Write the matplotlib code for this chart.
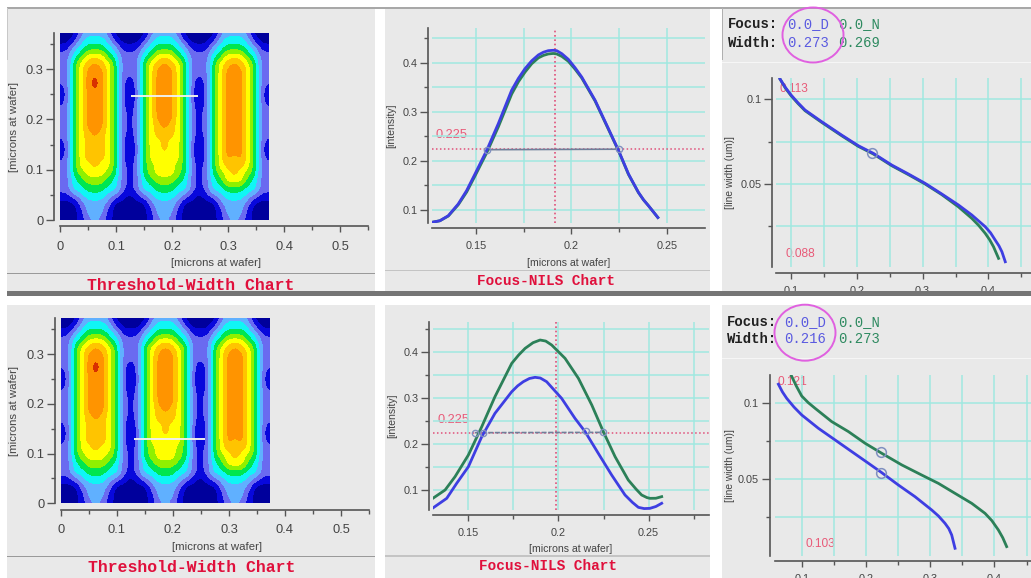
import numpy as np
import matplotlib
matplotlib.use("Agg")
import matplotlib.pyplot as plt
from matplotlib.patches import Rectangle, Ellipse
from matplotlib.colors import ListedColormap, BoundaryNorm

W, H = 1031, 578
SANS = "Liberation Sans"
MONO = "Liberation Mono"

# ---- data ----
heat_rows = [  # top (y=0.372) to bottom (y=0), intensity class per column
    "0 002333200 0 002333200 0 002333200 0",
    "0 013444310 0 013444310 0 013444310 0",
    "1 134555431 1 134555431 1 134555431 1",
    "2 245777542 2 245777542 2 245777542 2",
    "2 257898752 2 257898752 2 257898752 2",
    "2 257999752 2 257999752 2 257999752 2",
    "2 2579a9752 1 257999752 1 257999752 2",
    "1 2579a9752 0 257999752 0 257999752 1",
    "0 257999752 0 257999752 0 257999752 0",
    "1 257999752 0 257999752 0 257999752 1",
    "2 257999752 1 257999752 1 257999752 2",
    "2 257999752 1 257999752 1 257999752 2",
    "2 257999752 1 257898752 1 257999752 2",
    "2 257898752 1 257888752 1 257999752 2",
    "1 257888752 0 257787752 0 257999752 1",
    "0 257888752 0 257787752 0 257999752 0",
    "1 257888752 0 257777752 0 257989752 1",
    "2 257787752 1 256777652 1 257888752 2",
    "2 256777652 1 256777652 1 256787652 2",
    "2 245666542 1 245666542 1 245777542 2",
    "2 244555442 1 244555442 1 244555442 2",
    "1 123444321 0 123444321 0 123444321 1",
    "0 002333200 0 002333200 0 002333200 0",
    "0 001333100 0 001333100 0 001333100 0",
    "0 001232100 0 001232100 0 001232100 0",
]
heat_colors = ["#00009c", "#0808dc", "#6a6af0", "#60b0ff", "#10f5f5", "#00e650",
               "#90f000", "#ffff00", "#ffc400", "#ff9400", "#d83000"]
heat_extent = 0.372
xticks_heat = [0, 0.1, 0.2, 0.3, 0.4, 0.5]
yticks_heat = [0, 0.1, 0.2, 0.3]
cut_top = ([0.127, 0.247], [0.247, 0.247])
cut_bot = ([0.131, 0.257], [0.13, 0.13])

nils_x1 = [.1267, .1311, .1355, .1407, .1451, .1495, .1556, .1617, .1687, .1722, .1757, .1792, .1827, .1853,
           .1879, .1905, .1923, .1950, .1984, .2019, .2054, .2124, .2194, .2247, .2299, .2351, .2378, .2404, .2453]
nils_blue1 = [.074, .0774, .0877, .1116, .139, .173, .221, .2757, .344, .368, .388, .404, .416, .4215,
              .4247, .4255, .4247, .4185, .407, .390, .371, .3235, .2654, .221, .173, .1355, .120, .108, .084]
nils_green1 = [.074, .0774, .087, .110, .136, .169, .216, .269, .336, .361, .381, .398, .410, .415,
               .418, .419, .418, .413, .403, .387, .369, .322, .264, .22, .172, .135, .120, .108, .084]
nils_gx2 = [.1308, .1373, .1428, .1502, .1576, .1649, .1742, .1780, .1816, .1860, .1899, .1930, .1963, .2037,
            .2111, .2185, .2249, .2314, .2387, .2430, .2461, .2490, .2507, .2540, .2572]
nils_green2 = [.0826, .1, .129, .1763, .238, .3033, .376, .394, .4086, .421, .4268, .4245, .4159, .3869,
               .3433, .2852, .2271, .1726, .1218, .1020, .0891, .0835, .0818, .0820, .0855]
nils_bx2 = [.1308, .1382, .1437, .1502, .1576, .1649, .1742, .1775, .1806, .1840, .1871, .1900, .1935, .2018,
            .2092, .2148, .2221, .2295, .2369, .2410, .2443, .2475, .2507, .2540, .2572]
nils_blue2 = [.0615, .0818, .1145, .1508, .2162, .267, .3142, .327, .336, .343, .3455, .3440, .336, .2997,
              .2561, .2271, .1799, .1327, .0891, .0730, .0622, .0595, .06, .0640, .071]

lw_bx1 = [.0833, .0915, .1, .1105, .1213, .1466, .1770, .2024, .2252, .2531, .2785, .3038, .3292, .3545,
          .3748, .3951, .4032, .4103, .4160, .4205, .4256]
lw_blue1 = [.112, .107, .1026, .098, .0937, .0868, .0789, .0726, .0681, .0612, .0559, .0504, .0441, .0376,
            .0317, .0248, .0212, .0169, .0135, .01, .0041]
lw_gx1 = [.0833, .0915, .1, .1105, .1213, .1466, .1770, .2024, .2252, .2531, .2785, .3038, .3292, .3545,
          .3748, .3851, .3951, .4020, .4077, .4154]
lw_green1 = [.112, .1066, .1022, .0976, .0933, .0864, .0785, .0722, .0677, .0608, .0555, .05, .0437, .0365,
             .0297, .0256, .0209, .017, .013, .0061]
lw_gx2 = [.0834, .0915, .1, .1100, .1208, .1467, .1727, .1986, .2245, .2557, .2868, .3128, .3387, .3647,
          .3854, .3960, .4062, .4130, .4191]
lw_green2 = [.1187, .1115, .1048, .1005, .0967, .0879, .0813, .0736, .067, .0593, .0526, .0471, .0405, .0339,
             .0273, .0225, .0163, .0112, .0053]
lw_bx2 = [.0637, .0700, .0766, .0880, .1, .1259, .1519, .1778, .2038, .2245, .2505, .2764, .3024, .3130, .3231,
          .3290, .3335, .3387]
lw_blue2 = [.1126, .1075, .1033, .0975, .0923, .0835, .0758, .0681, .0604, .0542, .046, .0383, .0295, .0255, .0207,
            .0172, .013, .0042]

xlabel_heat = "[microns at wafer]"
ylabel_heat = "[microns at wafer]"
ylabel_nils = "[intensity]"
ylabel_lw = "[line width (um)]"
title_heat = "Threshold-Width Chart"
title_nils = "Focus-NILS Chart"

BLUE, GREEN, GRID = "#3e3ee2", "#2c8058", "#a0e8e0"
PANEL, RED = "#e9e9e9", "#e85a78"
MARK = "#8090c0"
INK = "#444444"

fig = plt.figure(figsize=(W / 100, H / 100), dpi=100, facecolor="white")


def overlay(z):
    a = fig.add_axes([0, 0, 1, 1], zorder=z, facecolor="none")
    a.set_xlim(0, W)
    a.set_ylim(H, 0)
    a.axis("off")
    return a


bg = overlay(-1)
fg = overlay(10)


def box(l, t, r, b, c, where=bg, z=1):
    where.add_patch(Rectangle((l, t), r - l, b - t, fc=c, ec="none", zorder=z))


def make_axes(l, t, r, b, xlim, ylim, off_l, off_b, xmaj, xmin, ymaj, ymin, fs, xfmt, yfmt,
              xlab, xlab_y, ylab, ylab_x, lab_fs, ylab_y=None, xlab_x=None, xpad=3):
    ax = fig.add_axes([l / W, 1 - b / H, (r - l) / W, (b - t) / H], facecolor="none", zorder=2)
    ax.set_xlim(*xlim)
    ax.set_ylim(*ylim)
    for s in ("top", "right"):
        ax.spines[s].set_visible(False)
    ax.spines["left"].set_position(("outward", off_l * 0.72))
    ax.spines["bottom"].set_position(("outward", off_b * 0.72))
    for s in ("left", "bottom"):
        ax.spines[s].set_color("#555555")
        ax.spines[s].set_linewidth(1.2)
    ax.set_xticks(xmaj)
    ax.set_xticklabels(xfmt, fontsize=fs, family=SANS, color=INK)
    ax.set_xticks(xmin, minor=True)
    ax.set_yticks(ymaj)
    ax.set_yticklabels(yfmt, fontsize=fs, family=SANS, color=INK)
    ax.set_yticks(ymin, minor=True)
    ax.tick_params(axis="x", which="major", length=4.5, width=1, color="#555555", pad=xpad)
    ax.tick_params(axis="y", which="major", length=5.5, width=1, color="#555555", pad=2)
    ax.tick_params(which="minor", length=3, width=1, color="#555555")
    ax.set_xlabel(xlab, fontsize=lab_fs, family=SANS, color=INK)
    ax.set_ylabel(ylab, fontsize=lab_fs, family=SANS, color=INK)
    ax.xaxis.set_label_coords(xlab_x if xlab_x else (l + r) / 2, xlab_y, transform=bg.transData)
    ax.yaxis.set_label_coords(ylab_x, ylab_y if ylab_y else (t + b) / 2, transform=bg.transData)
    return ax


# ---- panels ----
for (t, b) in ((8, 291), (305, 578)):
    box(7, t, 375, b, PANEL)
    box(385, t, 710, b, PANEL)
    box(722, t, W, b, PANEL)
box(7, 272.5, 375, 273.7, "#9a9a9a", z=2)
box(7, 556, 375, 557.2, "#9a9a9a", z=2)
box(385, 269.5, 710, 271, "#c4c4c4", z=2)
box(385, 555, 710, 556.5, "#c4c4c4", z=2)
box(722, 61.5, W, 63, "#f6f6f6", z=2)
box(722, 357.5, W, 359, "#f6f6f6", z=2)
box(7, 6.5, W, 8.5, "#a8a8a8", z=2)
box(7, 8, 8, 60, "#c8c8c8", z=2)
box(722, 8, 723, 60, "#b0b0b0", z=2)
box(7, 291, W, 295.5, "#757575", where=fg)

bg.text(191, 285, title_heat, fontsize=11.9, family=MONO, weight="bold", color="#e0103c", ha="center", va="center")
bg.text(192, 568, title_heat, fontsize=11.9, family=MONO, weight="bold", color="#e0103c", ha="center", va="center")
bg.text(546, 281, title_nils, fontsize=10.4, family=MONO, weight="bold", color="#e0103c", ha="center", va="center")
bg.text(548, 566, title_nils, fontsize=10.4, family=MONO, weight="bold", color="#e0103c", ha="center", va="center")

# ---- heat maps ----
grid = np.array([[int(c, 16) for c in r.replace(" ", "")] for r in heat_rows], dtype=float)[::-1]
dx = heat_extent / (grid.shape[1] - 1)
dy = heat_extent / (grid.shape[0] - 1)
cmap = ListedColormap(heat_colors)
norm = BoundaryNorm(np.arange(-0.5, 11, 1.0), 11)


def heat(l, r, t, b, off_l, off_b, cut, xlab_y, ylab_x):
    ax = make_axes(l, t, r, b, (0, 0.55), (0, heat_extent), off_l, off_b,
                   xticks_heat, [.05, .15, .25, .35, .45, .55], yticks_heat, [.05, .15, .25, .35],
                   9.3, ["0", "0.1", "0.2", "0.3", "0.4", "0.5"], ["0", "0.1", "0.2", "0.3"],
                   xlabel_heat, xlab_y, ylabel_heat, ylab_x, 8.2, xlab_x=l + 156, xpad=6)
    im = ax.imshow(grid, origin="lower", aspect="auto", cmap=cmap, norm=norm,
                   extent=(-dx / 2, heat_extent + dx / 2, -dy / 2, heat_extent + dy / 2),
                   interpolation="bicubic", interpolation_stage="data")
    im.set_clip_path(Rectangle((0, 0), heat_extent, heat_extent, transform=ax.transData))
    ax.plot(*cut, color="#f0f0e8", lw=1.4, solid_capstyle="butt")
    ax.set_xlim(0, 0.55)
    ax.set_ylim(0, heat_extent)
    return ax


heat(60, 368, 33, 220, 6, 6, cut_top, 258, 19)
heat(61, 369, 318.3, 503.3, 6, 6.5, cut_bot, 542, 19)


# ---- intensity charts ----
def nils(l, r, t, b, xlim, ylim, off_l, off_b, xlab_y, ylab_x, curves, thr, vx, hline, marks, lab_xy, dotted):
    xmaj = [0.15, 0.2, 0.25]
    xall = [0.15, 0.175, 0.2, 0.225, 0.25] + ([0.275] if xlim[1] > 0.275 else [])
    ymaj = [0.1, 0.2, 0.3, 0.4]
    ymin = [0.15, 0.25, 0.35, 0.45]
    ax = make_axes(l, t, r, b, xlim, ylim, off_l, off_b, xmaj, [v for v in xall if v not in xmaj],
                   ymaj, ymin, 7.8, ["0.15", "0.2", "0.25"], ["0.1", "0.2", "0.3", "0.4"],
                   xlabel_heat, xlab_y, ylabel_nils, ylab_x, 7.6, xpad=5)
    for v in xall:
        ax.axvline(v, color=GRID, lw=1.1, zorder=1)
    for v in ymaj + ymin:
        ax.axhline(v, color=GRID, lw=1.1, zorder=1)
    ax.axhline(thr, color="#e0507a", lw=1.1, ls=(0, (1, 1.6)), zorder=2)
    ax.axvline(vx, color="#e0507a", lw=1.2, ls=(0, (1, 1.6)), zorder=2)
    ax.plot(hline[0], hline[1], color="#6f7f9a", lw=1.2, ls=dotted, zorder=3)
    for x, y, c in curves:
        ax.plot(x, y, color=c, lw=2, zorder=4)
    ax.plot(marks[0], marks[1], ls="none", marker="o", ms=4.5, mfc="none", mec=MARK, mew=1, zorder=5)
    bg.text(*lab_xy, "0.225", fontsize=9.2, family=SANS, color=RED, ha="left", va="center", zorder=5)
    return ax


nils(431.7, 705, 28, 222.7, (.1268, .27), (.0734, .471), 4, 5,
     258, 396, [(nils_x1, nils_green1, GREEN), (nils_x1, nils_blue1, BLUE)], .223, .1915,
     ([.1556, .2247], [.2225, .2235]), ([.1556, .2247], [.222, .2232]), (436, 135.5), "-")
nils(433, 709, 321.7, 510, (.1306, .2834), (.0564, .4667), 4, 5,
     544, 397, [(nils_gx2, nils_green2, GREEN), (nils_bx2, nils_blue2, BLUE)], .2249, .1989,
     ([.1538, .2249], [.2249, .2255]), ([.1538, .1584, .2152, .2249], [.2249, .2249, .2285, .2271]),
     (437, 420), (0, (3, 1)))


# ---- line width charts ----
def lw_chart(l, r, t, b, xlim, ylim, off_l, off_b, ylab_x, curves, marks, labels, xfoc, hdr):
    xmaj = [.1, .2, .3, .4]
    xmin = [.15, .25, .35, .45]
    ax = make_axes(l, t, r, b, xlim, ylim, off_l, off_b, xmaj, xmin, [.1, .05], [.075, .025], 7.8,
                   ["0.1", "0.2", "0.3", "0.4"], ["0.1", "0.05"], "", b + 20, ylabel_lw, ylab_x, 7.4,
                   xpad=5)
    for v in xmaj + xmin:
        ax.axvline(v, color=GRID, lw=1.1, zorder=1)
    for v in [.1, .075, .05, .025]:
        ax.axhline(v, color=GRID, lw=1.1, zorder=1)
    for x, y, c in curves:
        ax.plot(x, y, color=c, lw=2, zorder=4)
    ax.plot(marks[0], marks[1], ls="none", marker="o", ms=7, mfc="none", mec=MARK, mew=1.1, zorder=5)
    for (x, y, s) in labels:
        bg.text(x, y, s, fontsize=8.6, family=SANS, color=RED, ha="left", va="center", zorder=5)
    (y1, y2, fx, vals, gvals, ell) = hdr
    for y, s, v, g in ((y1, "Focus:", vals[0], gvals[0]), (y2, "Width:", vals[1], gvals[1])):
        bg.text(fx, y, s, fontsize=10, family=MONO, weight="bold", color="#202020", va="center", zorder=5)
        bg.text(xfoc[0], y, v, fontsize=10, family=MONO, color="#5a5ae0", va="center", zorder=5)
        bg.text(xfoc[1], y, g, fontsize=10, family=MONO, color="#2e8a60", va="center", zorder=5)
    fg.add_patch(Ellipse(ell[:2], ell[2], ell[3], fc="none", ec="#e060e0", lw=1.4))
    return ax


lw_chart(776, W, 78, 267, (.0772, .4647), (.001, .1126), 4, 5.7, 735,
         [(lw_gx1, lw_green1, GREEN), (lw_bx1, lw_blue1, BLUE)],
         ([.2237], [.0681]),
         [(779, 89, "0.113"), (785.5, 254, "0.088")], (787, 838),
         (24.5, 43, 728, ("0.0_D", "0.273"), ("0.0_N", "0.269"), (813, 35, 61, 55)))
lw_chart(775, W, 375, 556, (.0584, .457), (-.0009, .1187), 5.5, 4.7, 735,
         [(lw_gx2, lw_green2, GREEN), (lw_bx2, lw_blue2, BLUE)],
         ([.2235, .2235], [.0676, .0542]),
         [(778, 382, "0.121"), (806, 544, "0.103")], (784, 838),
         (322, 339, 727, ("0.0_D", "0.216"), ("0.0_N", "0.273"), (805, 332.7, 61, 56)))

fig.savefig("out.png", dpi=100, facecolor="white")
